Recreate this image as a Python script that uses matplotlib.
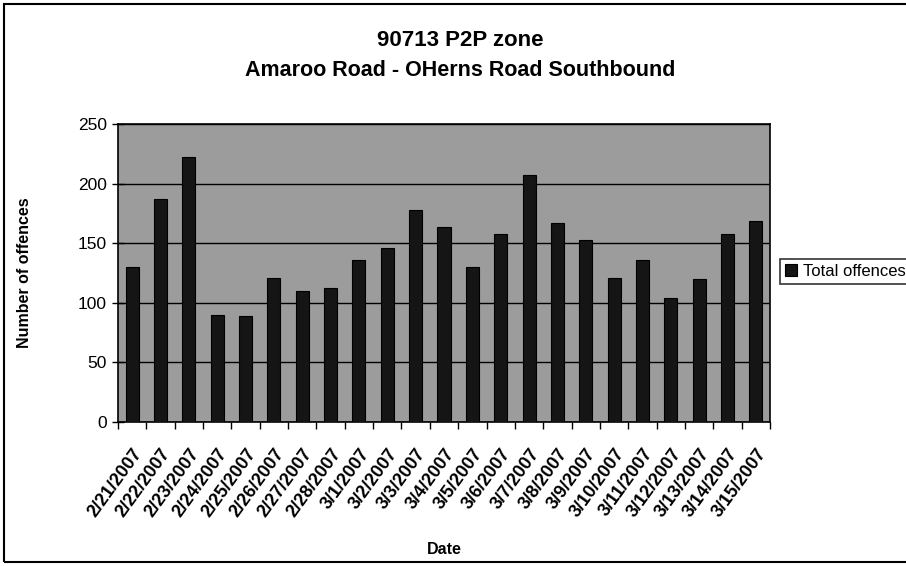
import matplotlib
matplotlib.use("Agg")
import matplotlib.pyplot as plt
from matplotlib.patches import Rectangle

dates = ["2/21/2007", "2/22/2007", "2/23/2007", "2/24/2007", "2/25/2007", "2/26/2007",
         "2/27/2007", "2/28/2007", "3/1/2007", "3/2/2007", "3/3/2007", "3/4/2007",
         "3/5/2007", "3/6/2007", "3/7/2007", "3/8/2007", "3/9/2007", "3/10/2007",
         "3/11/2007", "3/12/2007", "3/13/2007", "3/14/2007", "3/15/2007"]
offences = [130, 187, 222, 90, 89, 121, 110, 112, 136, 146, 178, 164,
            130, 158, 207, 167, 153, 121, 136, 104, 120, 158, 169]
y_ticks = [0, 50, 100, 150, 200, 250]

plt.rcParams["font.family"] = ["Liberation Sans", "DejaVu Sans"]

fig = plt.figure(figsize=(9.06, 5.66), dpi=100)
fig.patch.set_facecolor("white")

# outer chart frame
fig.patches.append(Rectangle((4 / 906, 4 / 566), 1.2, 1 - 8 / 566, transform=fig.transFigure,
                             fill=False, ec="black", lw=1.5))

ax = fig.add_axes([118 / 906, 1 - 422 / 566, (770 - 118) / 906, (422 - 124) / 566])
ax.set_facecolor("#9c9c9c")
x = list(range(len(dates)))
ax.bar(x, offences, width=0.46, color="#151515", edgecolor="black", lw=0.8,
       label="Total offences", zorder=3)

ax.set_xlim(-0.5, len(dates) - 0.5)
ax.set_ylim(0, 250)
ax.set_yticks(y_ticks)
ax.yaxis.grid(True, color="black", lw=1.0, zorder=1)
ax.set_axisbelow(True)
for s in ax.spines.values():
    s.set_color("black")
    s.set_linewidth(1.2)

ax.set_xticks(x)
ax.set_xticklabels(dates, rotation=54, ha="right", rotation_mode="anchor",
                   fontsize=13, fontweight="bold")
ax.set_xticks([i - 0.5 for i in range(len(dates) + 1)], minor=True)
ax.tick_params(axis="x", which="major", length=0, pad=17)
ax.tick_params(axis="x", which="minor", length=5, direction="out", width=1)
ax.tick_params(axis="y", length=8, direction="inout", width=1, labelsize=12.5, pad=4)

ax.set_xlabel("Date", fontsize=11.5, fontweight="bold")
ax.set_ylabel("Number of offences", fontsize=11.5, fontweight="bold")
ax.yaxis.set_label_coords(-86 / 652, 0.5)
ax.xaxis.set_label_coords(0.5, -(542 - 422) / 298)

fig.text(460 / 906, 1 - 40 / 566, "90713 P2P zone", ha="center", va="center",
         fontsize=16, fontweight="bold")
fig.text(460 / 906, 1 - 71 / 566, "Amaroo Road - OHerns Road Southbound", ha="center",
         va="center", fontsize=15.5, fontweight="bold")

leg = ax.legend(loc="center left", bbox_to_anchor=(780 / 906, 1 - 271 / 566),
                bbox_transform=fig.transFigure, frameon=True, fancybox=False,
                fontsize=12, handlelength=0.7, handleheight=0.7, handletextpad=0.4,
                borderpad=0.3, borderaxespad=0)
leg.get_frame().set_edgecolor("black")
leg.get_frame().set_linewidth(1.2)

fig.savefig("out.png", dpi=100, facecolor="white")
